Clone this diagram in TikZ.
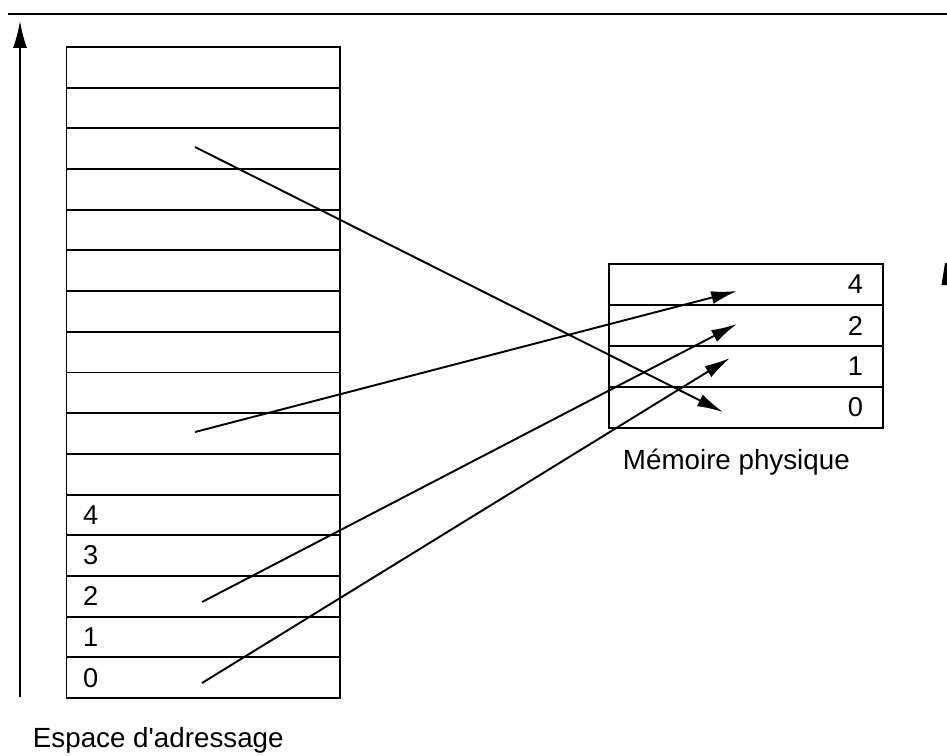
\documentclass[tikz,border=0pt]{standalone}
\usepackage{fontspec}
\setmainfont{Liberation Sans}[Ligatures=TeXOff]
\usetikzlibrary{arrows.meta}
\tikzset{
  vcell/.style={draw, minimum width=5.47cm, minimum height=0.8138cm, inner sep=0pt},
  pcell/.style={draw, minimum width=5.48cm, minimum height=0.82cm, inner sep=0pt}
}
\tikzset{
  digittext/.style={font=\fontsize{15.5}{18}\selectfont, inner sep=0pt},
  captiontext/.style={font=\fontsize{15.8}{19}\selectfont, inner sep=0pt},
  maparrow/.style={-{Latex[length=14.7pt,width=7.4pt]}}
}

\begin{document}
\begin{tikzpicture}[x=0.02cm, y=-0.02cm, line width=1.1pt]
  \useasboundingbox (0,0) rectangle (947,755);
  \draw (8,14) -- (947,14);
  % address axis, growing upwards
  \coordinate (axbot) at (20,697);
  \coordinate (axtop) at (20,21);
  \draw[-{Latex[length=15.3pt,width=8pt]}] (axbot) -- (axtop);
  % address space: 16 pages, page 0 at the bottom
  \foreach \i in {0,...,15}
    \node[vcell] (v\i) at (203.25, {698-40.69*(\i+0.5)}) {};
  \foreach \i in {0,...,4}
    \node[digittext, anchor=west] (vl\i) at ([xshift=0.33cm]v\i.west) {\i};
  \node[captiontext, anchor=base west] (espace) at (32,747) {Espace d'adressage};
  % physical memory: 4 frames
  \foreach \j/\t in {0/0, 1/1, 2/2, 3/4} {
    \node[pcell] (p\j) at (746, {428-41*(\j+0.5)}) {};
    \node[digittext, anchor=east] (pl\j) at ([xshift=-0.4cm]p\j.east) {\t};
  }
  \node[captiontext, anchor=base west] (memoire) at (622,469) {Mémoire physique};
  % arrow ends sit inside the cells, not on their borders
  \coordinate (s13) at (195,147);
  \coordinate (s6) at (195,432);
  \coordinate (s2) at (202,602);
  \coordinate (s0) at (202,683);
  \coordinate (d0) at (723,412);
  \coordinate (d3) at (737,291);
  \coordinate (d2) at (737,324);
  \coordinate (d1) at (730,358);
  \draw[maparrow] (s13) -- (d0);
  \draw[maparrow] (s6) -- (d3);
  \draw[maparrow] (s2) -- (d2);
  \draw[maparrow] (s0) -- (d1);
  % cut-off shape at the right edge
  \fill (941.5,285) -- (945,263) -- (947,263) -- (947,285) -- cycle;
\end{tikzpicture}
\end{document}
